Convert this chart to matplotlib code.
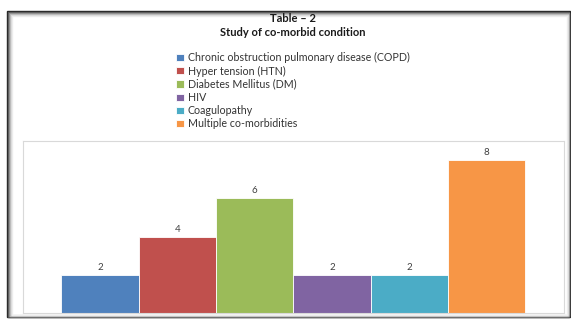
import matplotlib.pyplot as plt
from matplotlib.patches import Rectangle

conditions = ['Chronic obstruction pulmonary disease (COPD)', 'Hyper tension (HTN)',
              'Diabetes Mellitus (DM)', 'HIV', 'Coagulopathy', 'Multiple co-morbidities']
counts = [2, 4, 6, 2, 2, 8]
colors = ['#4F81BD', '#C0504D', '#9BBB59', '#8064A2', '#4BACC6', '#F79646']

plt.rcParams['font.family'] = ['Lato', 'DejaVu Sans']

W, H = 571, 320
fig = plt.figure(figsize=(W / 100, H / 100), dpi=100)

# frame with soft shadow, like a pasted picture
def px(x, y):
    return x / W, 1 - y / H

shades = ['#222222', '#555555', '#8a8a8a', '#b5b5b5', '#d8d8d8', '#ececec']
for i, c in enumerate(shades):
    x0, y1 = px(7 + i, 11 + i)
    x1, y0 = px(570 - i * 0.6, 317 - i * 0.4)
    fig.patches.append(Rectangle((x0, y0), x1 - x0, y1 - y0, transform=fig.transFigure,
                                 facecolor='none', edgecolor=c, lw=1.0))
x0, y1 = px(7 + len(shades), 11 + len(shades))
x1, y0 = px(567, 315)
fig.patches.append(Rectangle((x0, y0), x1 - x0, y1 - y0, transform=fig.transFigure,
                             facecolor='white', edgecolor='none', zorder=-1))

fig.text(293 / W, 1 - 19 / H, 'Table \u2013 2', ha='center', va='center',
         fontsize=8, fontweight='bold', color='#1a1a1a')
fig.text(293 / W, 1 - 32.7 / H, 'Study of co-morbid condition', ha='center', va='center',
         fontsize=8, fontweight='bold', color='#1a1a1a')

ax = fig.add_axes([22.7 / W, 1 - 313.3 / H, (564 - 22.7) / W, (313.3 - 140.7) / H])
bars = ax.bar(range(len(counts)), counts, width=1.0, color=colors,
              edgecolor='white', linewidth=0.6)
ax.bar_label(bars, padding=2, fontsize=7, color='#404040')
ax.set_xlim(-1, 6)
ax.set_ylim(0, 9)
ax.set_xticks([])
ax.set_yticks([])
for s in ax.spines.values():
    s.set_color('#d9d9d9')
    s.set_linewidth(0.8)

fig.legend(bars, conditions, loc='upper left', bbox_to_anchor=(171 / W, 1 - 47 / H),
           frameon=False, fontsize=7.7, handlelength=0.75, handleheight=0.65,
           handletextpad=0.3, labelspacing=0.2, borderpad=0, labelcolor='#333333')

fig.savefig('out.png', dpi=100)
